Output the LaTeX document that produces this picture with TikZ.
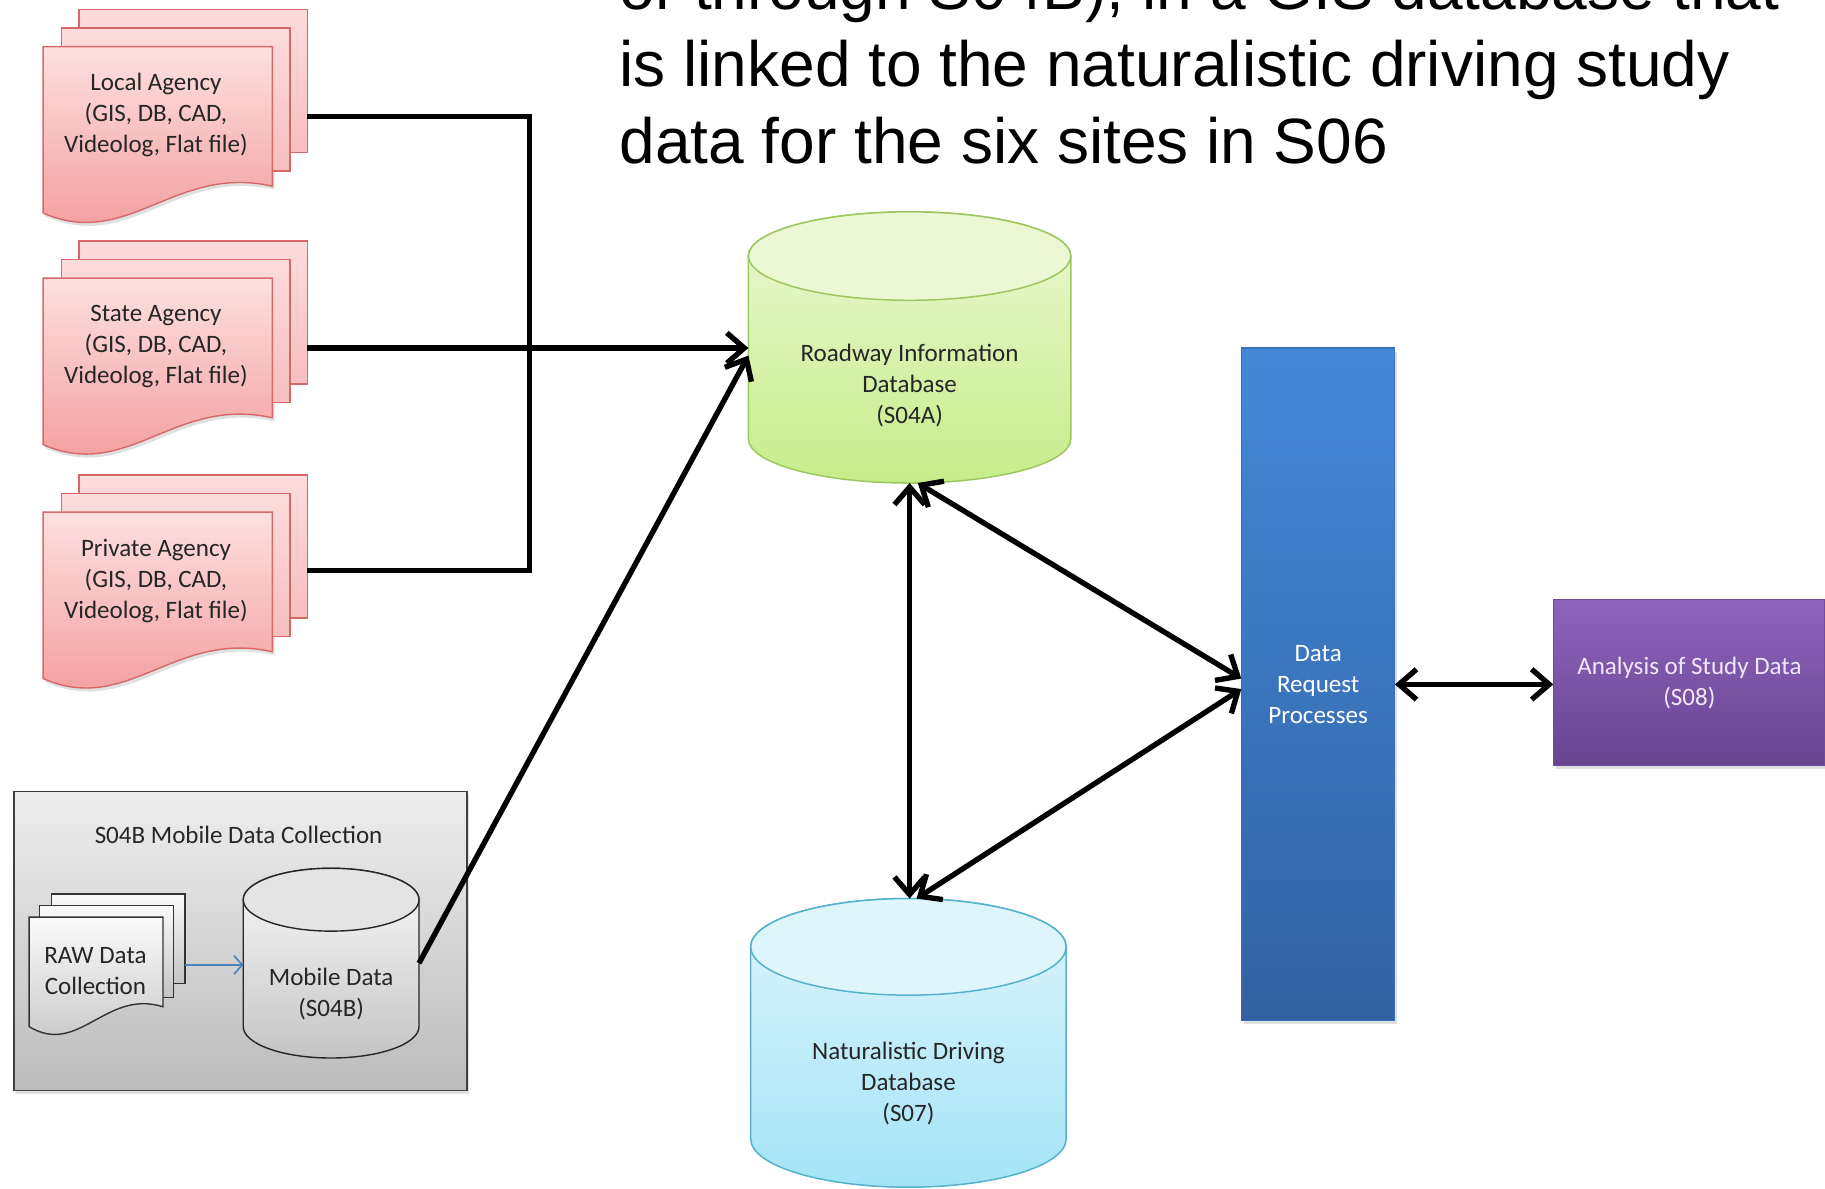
\documentclass[tikz,border=0pt]{standalone}
\usepackage{fontspec}
\usetikzlibrary{arrows.meta,shadows}
\newfontfamily\calfont{Carlito}
\newfontfamily\arialfont{Liberation Sans}
\definecolor{pinkTop}{RGB}{253,224,224}
\definecolor{pinkBot}{RGB}{242,152,152}
\definecolor{pinkBackTop}{RGB}{252,220,220}
\definecolor{pinkBackBot}{RGB}{247,190,190}
\definecolor{pinkDraw}{RGB}{214,104,104}
\definecolor{greenTop}{RGB}{236,248,212}
\definecolor{greenBot}{RGB}{198,237,138}
\definecolor{greenDraw}{RGB}{158,199,96}
\definecolor{cyanTop}{RGB}{222,245,252}
\definecolor{cyanBot}{RGB}{164,228,247}
\definecolor{cyanDraw}{RGB}{86,178,204}
\definecolor{blueTop}{RGB}{67,137,216}
\definecolor{blueBot}{RGB}{50,97,163}
\definecolor{blueDraw}{RGB}{58,112,185}
\definecolor{purpTop}{RGB}{142,99,188}
\definecolor{purpBot}{RGB}{104,68,144}
\definecolor{purpDraw}{RGB}{112,76,152}
\definecolor{grayTop}{RGB}{238,238,238}
\definecolor{grayBot}{RGB}{188,188,188}
\definecolor{grayDraw}{RGB}{64,64,64}
\definecolor{sheetTop}{RGB}{250,250,250}
\definecolor{sheetBot}{RGB}{196,196,196}
\definecolor{rawBlue}{RGB}{79,129,189}
\definecolor{labText}{RGB}{38,38,38}
\definecolor{anaText}{RGB}{240,232,250}

% front sheet of a document stack: style, x1, top, x2, right-bottom y, left-bottom y, wave amplitude
\newcommand{\docfront}[7]{%
  \path[#1] ({#2},{#3}) -- ({#4},{#3}) -- ({#4},{#5})
    .. controls ({#2+0.574*(#4-#2)},{#5-0.6*(#7)}) and ({#2+0.37*(#4-#2)},{#6+#7}) .. ({#2},{#6}) -- cycle;}

% cylinder: x1, x2, top centre y, bottom centre y, y radius, body style, top style
\newcommand{\dbcyl}[7]{%
  \path[#6] ({#1},{#3}) -- ({#1},{#4})
     arc[start angle=180, end angle=0, x radius={(#2-#1)/2}, y radius={#5}]
     -- ({#2},{#3})
     arc[start angle=0, end angle=-180, x radius={(#2-#1)/2}, y radius={#5}] -- cycle;
  \path[#7] ({(#1+#2)/2},{#3}) ellipse[x radius={(#2-#1)/2}, y radius={#5}];}

% agency document stack: back top y, node name, label
\newcommand{\agency}[3]{%
  \docfront{softshadow}{39}{#1+35}{236}{#1+155}{#1+178}{32}
  \path[pinkback] (68,{#1}) rectangle (264,{#1+123});
  \path[pinkback] (53,{#1+16}) rectangle (249,{#1+139});
  \docfront{pinkfront}{37}{#1+32}{234}{#1+152}{#1+175}{32}
  \node[lab] at (134,{#1+91}) {#3};
  \node[hitbox, minimum width=227pt, minimum height=184pt] (#2) at (150.5,{#1+92}) {};}

\begin{document}
\begin{tikzpicture}[x=1pt,y=-1pt,
  softshadow/.style={fill=black, fill opacity=0.12},
  pinkback/.style={top color=pinkBackTop, bottom color=pinkBackBot, draw=pinkDraw, line width=1.2pt},
  pinkfront/.style={top color=pinkTop, bottom color=pinkBot, draw=pinkDraw, line width=1.2pt},
  sheetback/.style={top color=sheetTop, bottom color=sheetBot, draw=black!80, line width=1.2pt},
  greenbody/.style={top color=greenTop, bottom color=greenBot, draw=greenDraw, line width=1.3pt},
  greentop/.style={fill=greenTop, draw=greenDraw, line width=1.3pt},
  cyanbody/.style={top color=cyanTop, bottom color=cyanBot, draw=cyanDraw, line width=1.3pt},
  cyantop/.style={fill=cyanTop, draw=cyanDraw, line width=1.3pt},
  graybody/.style={top color=sheetTop, bottom color=sheetBot, draw=black!85, line width=1.2pt},
  graytop/.style={fill=sheetTop!60!sheetBot, draw=black!85, line width=1.2pt},
  groupbox/.style={top color=grayTop, bottom color=grayBot, draw=grayDraw, line width=1.5pt,
     drop shadow={shadow xshift=2pt, shadow yshift=-3pt, opacity=0.25}},
  drbox/.style={top color=blueTop, bottom color=blueBot, draw=blueDraw, line width=1pt,
     font=\calfont\fontsize{21.5}{26.5}\selectfont, align=center, text=white, inner sep=0pt,
     drop shadow={shadow xshift=2pt, shadow yshift=-3pt, opacity=0.25}},
  anabox/.style={top color=purpTop, bottom color=purpBot, draw=purpDraw, line width=1pt,
     font=\calfont\fontsize{21.5}{26.5}\selectfont, align=center, text=anaText, inner sep=0pt,
     drop shadow={shadow xshift=2pt, shadow yshift=-3pt, opacity=0.25}},
  lab/.style={font=\calfont\fontsize{21.5}{26.5}\selectfont, align=center, text=labText, inner sep=0pt},
  hitbox/.style={inner sep=0pt, outer sep=0pt, draw=none, fill=none},
  conn/.style={line width=4.6pt, draw=black},
  arr/.style={conn, -{Straight Barb[length=15pt, width=26pt]}},
  darr/.style={conn, {Straight Barb[length=15pt, width=26pt]}-{Straight Barb[length=15pt, width=26pt]}},
  bluearr/.style={line width=1.4pt, draw=rawBlue, -{Straight Barb[length=7pt, width=16pt]}}
]
\useasboundingbox (0,0) rectangle (1568,1021);
\clip (0,0) rectangle (1568,1021);
\fill[white] (0,0) rectangle (1568,1021);

% caption text (top line cut by the edge, as in the source)
\node[font=\arialfont\fontsize{55}{66}\selectfont, align=left, inner sep=0pt, anchor=south west, text=black]
  (caption) at (532,141) {or through S04B), in a GIS database that\\is linked to the naturalistic driving study\\data for the six sites in S06};

% agency stacks
\agency{8}{local}{Local Agency\\(GIS, DB, CAD,\\Videolog, Flat file)}
\agency{207}{state}{State Agency\\(GIS, DB, CAD,\\Videolog, Flat file)}
\agency{408}{private}{Private Agency\\(GIS, DB, CAD,\\Videolog, Flat file)}

% mobile data collection group
\node[groupbox, minimum width=389pt, minimum height=257pt] (mobgrp) at (206.5,808.5) {};
\node[lab] (mobtitle) at (205,717) {S04B Mobile Data Collection};
\path[sheetback] (44,768) rectangle (159,845);
\path[sheetback] (34,778) rectangle (149,857);
\docfront{sheetback}{25}{788}{140}{865}{882}{26}
\node[lab] at (82,834) {RAW Data\\Collection};
\node[hitbox, minimum width=134pt, minimum height=122pt] (raw) at (92,829) {};
\dbcyl{209}{360}{773}{882}{27}{graybody}{graytop}
\node[lab] at (284.5,854) {Mobile Data\\(S04B)};
\node[hitbox, minimum width=151pt, minimum height=163pt] (mobile) at (284.5,827.5) {};

% databases
\dbcyl{643}{920}{220}{377}{38}{greenbody}{greentop}
\node[lab] at (781.5,331) {Roadway Information\\Database\\(S04A)};
\node[hitbox, minimum width=277pt, minimum height=233pt] (road) at (781.5,298.5) {};
\dbcyl{645}{916}{813.5}{978.5}{41.5}{cyanbody}{cyantop}
\node[lab] at (780.5,931) {Naturalistic Driving\\Database\\(S07)};
\node[hitbox, minimum width=271pt, minimum height=248pt] (nat) at (780.5,896) {};

% process boxes
\node[drbox, minimum width=131pt, minimum height=578pt] (dr) at (1132.5,588) {Data\\Request\\Processes};
\node[anabox, minimum width=233pt, minimum height=143pt] (ana) at (1451.5,586.5) {Analysis of Study Data\\(S08)};

% connectors
\coordinate (bus) at (455,300);
\draw[conn] (local.east) -| (bus) |- ([yshift=10pt]private.east);
\draw[arr] (state.east) -- (state.east -| road.west);
\draw[arr] (mobile.east) -- ([yshift=-7pt]road.west);
\draw[bluearr] (raw.east) -- (raw.east -| mobile.west);
\draw[darr] (road.south) -- (road.south |- nat.north);
\draw[darr] ([xshift=7pt]road.south) -- ([yshift=5pt]dr.west);
\draw[darr] ([xshift=7pt]nat.north) -- ([yshift=-4pt]dr.west);
\draw[darr] (dr.east) -- (dr.east -| ana.west);
\end{tikzpicture}
\end{document}
